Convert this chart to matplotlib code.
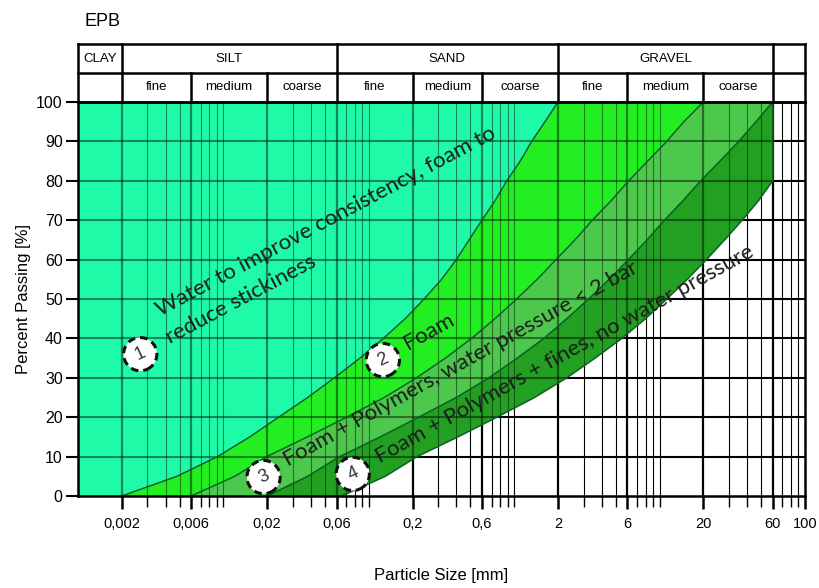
import numpy as np
import matplotlib.pyplot as plt
from matplotlib.patches import Polygon
from matplotlib.collections import LineCollection

plt.rcParams['font.family'] = ['Liberation Sans', 'DejaVu Sans']

# grading limits (percent passing vs particle size in mm)
pct = [0, 5, 10, 15, 20, 25, 30, 35, 40, 45, 50,
       55, 60, 65, 70, 75, 80, 85, 90, 95, 100]
size_a = [0.002, 0.0048, 0.0091, 0.0152, 0.024, 0.038, 0.058, 0.087, 0.126, 0.178, 0.24,
          0.317, 0.40, 0.49, 0.60, 0.74, 0.89, 1.10, 1.32, 1.63, 2.0]
size_b = [0.006, 0.012, 0.0199, 0.0379, 0.0705, 0.128, 0.213, 0.337, 0.51, 0.738, 1.04,
          1.44, 1.94, 2.62, 3.45, 4.66, 6.14, 8.28, 11.2, 14.7, 20.0]
size_c = [0.02, 0.038, 0.063, 0.12, 0.22, 0.40, 0.67, 1.05, 1.6, 2.3, 3.25,
          4.5, 6.1, 8.2, 10.8, 14.5, 19.2, 26.0, 35.0, 46.0, 60.0]
pct_d = [0, 5, 10, 15, 20, 25, 30, 35, 40, 45, 50, 55, 60, 65, 70, 75, 80]
size_d = [0.065, 0.13, 0.215, 0.41, 0.76, 1.38, 2.3, 3.6, 5.5, 8.0, 11.2,
          15.5, 21.0, 28.0, 37.0, 48.0, 60.0]

xmin, xmax = 0.001, 100
major_x = [0.002, 0.006, 0.02, 0.06, 0.2, 0.6, 2, 6, 20, 60, 100]
major_lbl = ['0,002', '0,006', '0,02', '0,06', '0,2', '0,6', '2', '6', '20', '60', '100']

soil_groups = ['CLAY', 'SILT', 'SAND', 'GRAVEL', '']
group_edges = [0.001, 0.002, 0.06, 2, 60, 100]
sub_names = ['', 'fine', 'medium', 'coarse', 'fine', 'medium', 'coarse',
             'fine', 'medium', 'coarse', '']
sub_edges = [0.001, 0.002, 0.006, 0.02, 0.06, 0.2, 0.6, 2, 6, 20, 60, 100]

c_teal = '#1ffaa8'
c_green = '#22ee22'
c_mid = '#4cc84c'
c_dark = '#22a022'
c_edge = '#0a5f22'

fig = plt.figure(figsize=(8.2, 5.88), dpi=100)
L, R = 78 / 820, 805 / 820
B, T = 1 - 496 / 588, 1 - 102 / 588
ax = fig.add_axes([L, B, R - L, T - B])
ax.set_xscale('log')
ax.set_xlim(xmin, xmax)
ax.set_ylim(0, 100)

# grid positions: every 1..9 step of each decade
minor_x = []
for dec in [0.001, 0.01, 0.1, 1, 10]:
    for k in range(2, 11):
        minor_x.append(round(dec * k, 6))
minor_x = sorted(set(minor_x) - {100})
thick = set(major_x)

segs_v = [[(x, 0), (x, 100)] for x in minor_x]
lw_v = [1.6 if x in thick else 0.8 for x in minor_x]
segs_h = [[(xmin, y), (xmax, y)] for y in range(10, 100, 10)]

ax.add_collection(LineCollection(segs_v, colors='black', linewidths=lw_v, zorder=1))
ax.add_collection(LineCollection(segs_h, colors='black', linewidths=1.5, zorder=1))

# coloured zones
ax.fill_betweenx(pct, xmin, size_a, color=c_teal, lw=0, zorder=2)
ax.fill_betweenx(pct, size_a, size_b, color=c_green, lw=0, zorder=2)
ax.fill_betweenx(pct, size_b, size_c, color=c_mid, lw=0, zorder=2)
dark_pts = list(zip(size_c, pct)) + [(60, 80)] + list(zip(size_d, pct_d))[::-1]
ax.add_patch(Polygon(dark_pts, closed=True, fc=c_dark, lw=0, zorder=2))

# grid seen through the coloured zones
zone = Polygon([(xmin, 0)] + list(zip(size_d, pct_d)) + [(60, 100), (xmin, 100)],
               closed=True, fc='none', lw=0, transform=ax.transData)
ax.add_patch(zone)
for segs, lw in [(segs_v, lw_v), (segs_h, 1.5)]:
    lc = LineCollection(segs, colors=(0, 0, 0, 0.45), linewidths=lw, zorder=3)
    ax.add_collection(lc)
    lc.set_clip_path(zone)

for sx, sy in [(size_a, pct), (size_b, pct), (size_c, pct), (size_d, pct_d)]:
    ax.plot(sx, sy, color=c_edge, lw=1.1, zorder=4)
ax.plot([60, 60], [80, 100], color=c_edge, lw=1.1, zorder=4)

# zone labels
tfont = ['Lato', 'DejaVu Sans']
txt_kw = dict(family=tfont, color='#1c1c1c', rotation_mode='anchor',
              ha='left', va='baseline', fontsize=16, zorder=6)
ax.text(0.0037, 45.5, 'Water to improve consistency, foam to', rotation=28, **txt_kw)
ax.text(0.0043, 38.6, 'reduce stickiness', rotation=28, **txt_kw)
ax.text(0.185, 37.0, 'Foam', rotation=29, **txt_kw)
ax.text(0.028, 7.6, 'Foam + Polymers, water pressure < 2 bar', rotation=29, **txt_kw)
ax.text(0.12, 8.2, 'Foam + Polymers + fines, no water pressure', rotation=29, **txt_kw)

zone_ids = ['1', '2', '3', '4']
id_x = [0.00268, 0.125, 0.0189, 0.0776]
id_y = [36.0, 34.5, 4.8, 5.6]
for s, x, y in zip(zone_ids, id_x, id_y):
    ax.text(x, y, s, fontsize=13, color='#333333', ha='center', va='center',
            rotation=25, zorder=7,
            bbox=dict(boxstyle='circle,pad=0.45', fc='white', ec='#111111',
                      lw=2.2, ls=(0, (2.5, 1.6))))

# axes and ticks
ax.set_xticks(major_x)
ax.set_xticklabels(major_lbl)
ax.set_xticks([x for x in minor_x if x not in thick], minor=True)
ax.xaxis.set_minor_formatter(plt.NullFormatter())
ax.set_yticks(range(0, 101, 10))
ax.tick_params(axis='x', which='major', direction='out', length=9, width=1.8,
               labelsize=10.5, pad=6)
ax.tick_params(axis='x', which='minor', direction='out', length=8, width=1.0)
ax.tick_params(axis='y', direction='out', length=9, width=1.5, labelsize=11.5, pad=2)
for sp in ax.spines.values():
    sp.set_linewidth(1.8)
    sp.set_zorder(8)
ax.set_ylabel('Percent Passing [%]', fontsize=12, labelpad=4)
ax.set_xlabel('Particle Size [mm]', fontsize=12, labelpad=27)

# soil classification header
hax = fig.add_axes([L, T, R - L, 58 / 588])
hax.set_xscale('log')
hax.set_xlim(xmin, xmax)
hax.set_ylim(0, 2)
hax.axis('off')
hk = dict(color='black', lw=1.8, clip_on=False)
for yy in [0, 1, 2]:
    hax.plot([xmin, xmax], [yy, yy], **hk)
for xx in [xmin, xmax]:
    hax.plot([xx, xx], [0, 2], **hk)
for xx in group_edges[1:-1]:
    hax.plot([xx, xx], [1, 2], **hk)
for xx in sub_edges[1:-1]:
    hax.plot([xx, xx], [0, 1], **hk)
for i, name in enumerate(soil_groups):
    xc = np.sqrt(group_edges[i] * group_edges[i + 1])
    hax.text(xc, 1.5, name, ha='center', va='center', fontsize=9.5)
for i, name in enumerate(sub_names):
    xc = np.sqrt(sub_edges[i] * sub_edges[i + 1])
    hax.text(xc, 0.5, name, ha='center', va='center', fontsize=9.5)

fig.text(85 / 820, 1 - 22 / 588, 'EPB', fontsize=13, ha='left', va='center')

fig.savefig('out.png', dpi=100)
